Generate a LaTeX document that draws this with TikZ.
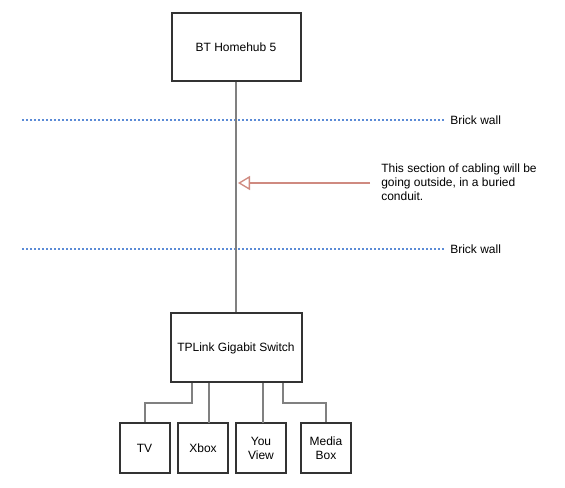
\documentclass[tikz,border=0pt]{standalone}
\usepackage{fontspec}
\setmainfont{Liberation Sans}
\usetikzlibrary{arrows.meta}
\definecolor{boxline}{HTML}{333333}
\definecolor{wire}{HTML}{808080}
\definecolor{wall}{HTML}{5B8BD6}
\definecolor{note}{HTML}{CF8A80}
\begin{document}
\begin{tikzpicture}[x=0.75pt,y=-0.75pt,
  box/.style={draw=boxline,line width=1.5pt,fill=white,inner sep=0pt,font=\fontsize{9}{10.5}\selectfont,align=center},
  wirestyle/.style={draw=wire,line width=1.5pt},
  wallline/.style={draw=wall,line width=1.5pt,dash pattern=on 1.5pt off 1.5pt},
  lbl/.style={font=\fontsize{9}{10.5}\selectfont,inner sep=0pt}]
\useasboundingbox (0,0) rectangle (565,488);
% boxes
\node[box,minimum width=129*0.75pt,minimum height=68*0.75pt] (hub) at (236,47.5) {BT Homehub 5};
\node[box,minimum width=131*0.75pt,minimum height=69*0.75pt] (sw) at (236,348) {TPLink Gigabit Switch};
\node[box,minimum width=50*0.75pt,minimum height=50*0.75pt] (tv) at (144.5,448) {TV};
\node[box,minimum width=50*0.75pt,minimum height=50*0.75pt] (xb) at (203,448) {Xbox};
\node[box,minimum width=50*0.75pt,minimum height=50*0.75pt] (yv) at (261,448) {You\\View};
\node[box,minimum width=50*0.75pt,minimum height=50*0.75pt] (mb) at (326,448) {Media\\Box};
% walls
\coordinate (w1a) at (22,120); \coordinate (w1b) at (444,120);
\coordinate (w2a) at (22,249); \coordinate (w2b) at (444,249);
\draw[wallline] (w1a) -- (w1b);
\draw[wallline] (w2a) -- (w2b);
\node[lbl,anchor=west] (bw1) at (450,120) {Brick wall};
\node[lbl,anchor=west] (bw2) at (450,249) {Brick wall};
% main cable
\draw[wirestyle] (hub.south) -- (sw.north);
% note
\coordinate (ntail) at (370,183);
\coordinate (ntip) at (238,183);
\draw[draw=note,line width=1pt,-{Triangle[open,length=9pt,width=10.5pt,fill=white]}] (ntail) -- (ntip);
\node[lbl,anchor=north west,align=left,font=\fontsize{9}{10.5}\selectfont] (nt) at (381,163.5) {This section of cabling will be\\going outside, in a buried\\conduit.};
% switch to devices
\coordinate (c1) at (192,403);
\coordinate (c2) at (209,423);
\coordinate (c3) at (263,423);
\coordinate (c4) at (283,403);
\draw[wirestyle] (sw.south -| c1) -- (c1) -| (tv.north);
\draw[wirestyle] (sw.south -| c2) -- (c2);
\draw[wirestyle] (sw.south -| c3) -- (c3);
\draw[wirestyle] (sw.south -| c4) -- (c4) -| (mb.north);
\end{tikzpicture}
\end{document}
